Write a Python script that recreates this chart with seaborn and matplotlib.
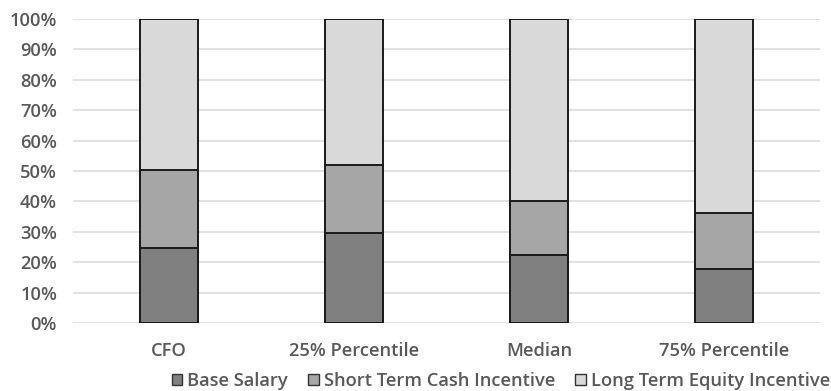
import matplotlib
matplotlib.use("Agg")
import matplotlib.pyplot as plt
from matplotlib.patches import Patch
from matplotlib.ticker import PercentFormatter
import pandas as pd
import seaborn as sns

# Pay mix by peer group (share of total compensation, %)
groups = ["CFO", "25% Percentile", "Median", "75% Percentile"]
base_salary = [24.6, 29.5, 22.3, 17.7]
short_term_cash = [25.6, 22.5, 17.8, 18.4]
long_term_equity = [49.8, 48.0, 59.9, 63.9]
series_names = ["Base Salary", "Short Term Cash Incentive", "Long Term Equity Incentive"]
y_ticks = [0, 10, 20, 30, 40, 50, 60, 70, 80, 90, 100]

colors = ["#808080", "#a6a6a6", "#d9d9d9"]
edge = "#1a1a1a"
text_color = "#595959"
fs = 13.2

sns.set_theme(style="white")
plt.rcParams["font.family"] = ["Open Sans", "DejaVu Sans"]

df = pd.DataFrame({
    "group": groups,
    "base": base_salary,
    "short": short_term_cash,
    "long": long_term_equity,
})
df["lvl1"] = df["base"]
df["lvl2"] = df["base"] + df["short"]
df["lvl3"] = df["lvl2"] + df["long"]

W, H = 831, 391
fig = plt.figure(figsize=(W / 100, H / 100), dpi=100)
ax = fig.add_axes([73 / W, (H - 323) / H, (820 - 73) / W, (323 - 19) / H])

# stacked bars: draw cumulative totals from the top segment down
for col, color in zip(["lvl3", "lvl2", "lvl1"], colors[::-1]):
    sns.barplot(data=df, x="group", y=col, color=color, width=0.313,
                edgecolor=edge, linewidth=1.4, saturation=1, ax=ax, zorder=3)

ax.set_ylim(0, 100)
ax.set_xlim(-0.518, 3.516)
ax.set_yticks(y_ticks)
ax.yaxis.set_major_formatter(PercentFormatter(decimals=0))
ax.set_xlabel("")
ax.set_ylabel("")
ax.grid(axis="y", color="#d9d9d9", linewidth=1.1, zorder=0)
ax.grid(axis="x", visible=False)
for s in ax.spines.values():
    s.set_visible(False)

ax.tick_params(axis="y", length=0, pad=11.5, labelsize=fs, labelcolor=text_color)
ax.tick_params(axis="x", length=0, pad=14, labelsize=fs, labelcolor=text_color)
for lbl in ax.get_xticklabels() + ax.get_yticklabels():
    lbl.set_fontweight("semibold")

handles = [Patch(facecolor=c, edgecolor="#333333", linewidth=1.0) for c in colors]
leg = fig.legend(handles, series_names, loc="center left",
                 bbox_to_anchor=(172 / W, (H - 381) / H),
                 ncol=3, frameon=False, fontsize=fs, handlelength=0.57,
                 handleheight=0.57, handletextpad=0.27, columnspacing=1.1,
                 borderaxespad=0, borderpad=0)
for t in leg.get_texts():
    t.set_color(text_color)
    t.set_fontweight("semibold")

fig.savefig("out.png", dpi=100)
